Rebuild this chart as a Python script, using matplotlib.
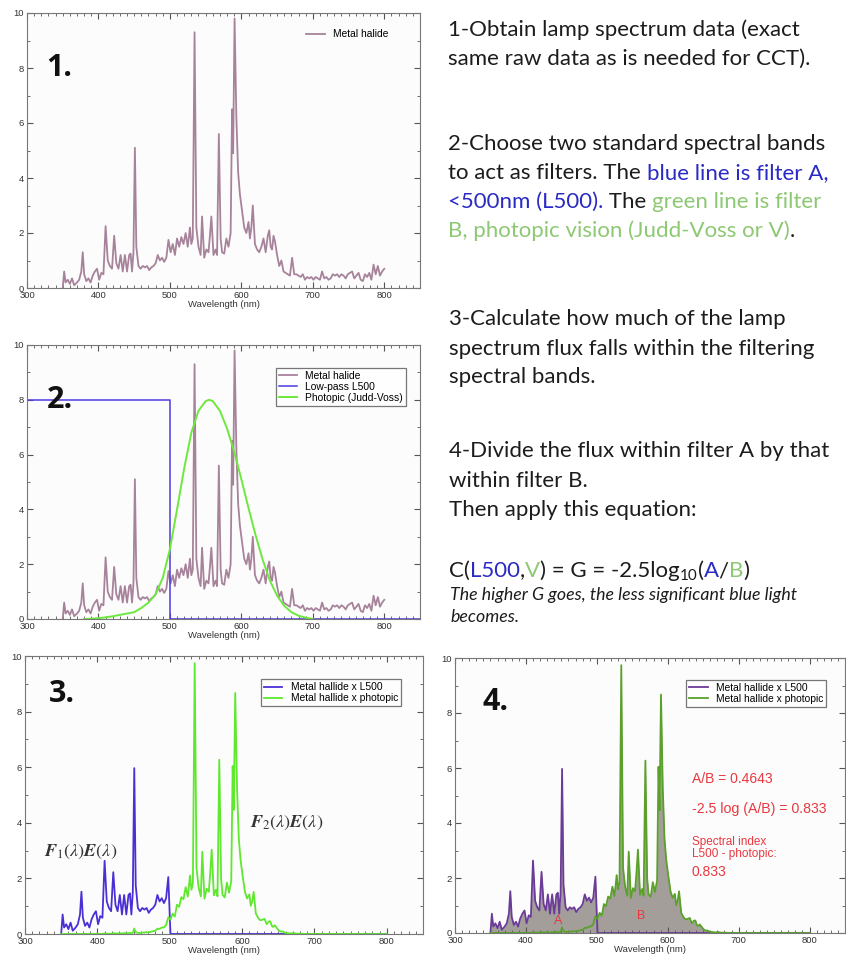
import numpy as np
import matplotlib.pyplot as plt
from matplotlib.ticker import MultipleLocator

plt.rcParams['mathtext.fontset'] = 'stix'

# metal halide lamp spectrum (nm, arbitrary units)
wl_mh = [350, 352, 354, 357, 360, 363, 366, 370, 373, 376, 378, 380, 383, 386, 389, 392, 395, 398,
         401, 404, 407, 410, 413, 416, 419, 422, 425, 428, 431, 434, 437, 440, 443, 445, 447, 449,
         451, 453, 456, 459, 462, 465, 468, 471, 474, 477, 480, 483, 486, 489, 492, 495, 498,
         501, 504, 507, 510, 513, 516, 519, 522, 525, 528, 530, 532, 534.5, 537, 540, 543, 545,
         548, 551, 554, 556, 558, 561, 564, 566, 568.5, 571, 573, 576, 579, 582, 585, 587, 588.5,
         590.5, 593, 595.5, 598, 601, 604, 607, 610, 612, 614, 616, 619, 622, 625, 628, 631, 634,
         637, 639, 641, 643, 645, 647, 650, 653, 656, 659, 662, 665, 668, 671, 674, 677, 680,
         683, 686, 689, 692, 695, 698, 701, 704, 707, 710, 713, 716, 719, 722, 725, 728, 731,
         734, 737, 740, 743, 746, 749, 752, 755, 758, 761, 764, 767, 770, 773, 776, 779, 782,
         785, 788, 791, 794, 797, 800]
mh = [0.0, 0.6, 0.2, 0.3, 0.15, 0.35, 0.1, 0.2, 0.3, 0.6, 1.3, 0.5, 0.25, 0.35, 0.2, 0.45, 0.6, 0.7,
      0.3, 0.55, 0.5, 2.25, 1.0, 0.8, 0.7, 1.9, 0.9, 0.7, 1.2, 0.6, 1.2, 0.6, 1.2, 1.25, 0.6, 1.3,
      5.1, 1.5, 0.8, 0.7, 0.8, 0.75, 0.8, 0.65, 0.75, 0.8, 0.9, 1.2, 1.0, 1.1, 0.95, 1.1, 1.75,
      1.3, 1.6, 1.2, 1.8, 1.5, 1.85, 1.6, 2.0, 1.5, 2.2, 1.6, 1.8, 9.3, 2.2, 1.5, 1.2, 2.6,
      1.1, 1.4, 1.3, 1.9, 2.6, 1.2, 1.4, 1.2, 5.6, 1.8, 1.3, 1.25, 1.8, 1.5, 2.0, 6.5, 4.9,
      9.8, 6.2, 4.2, 3.4, 2.8, 2.2, 2.0, 2.4, 1.8, 2.2, 3.0, 1.6, 1.4, 1.3, 1.5, 1.8, 1.3,
      1.9, 2.1, 1.5, 1.4, 1.9, 1.7, 1.2, 0.8, 1.0, 0.6, 0.55, 0.5, 0.45, 1.1, 0.5, 0.5, 0.45,
      0.4, 0.5, 0.3, 0.4, 0.35, 0.4, 0.3, 0.4, 0.35, 0.3, 0.6, 0.35, 0.4, 0.3, 0.35, 0.5, 0.45,
      0.5, 0.4, 0.5, 0.45, 0.35, 0.5, 0.55, 0.6, 0.35, 0.45, 0.55, 0.3, 0.25, 0.5, 0.4, 0.55, 0.3,
      0.85, 0.5, 0.8, 0.45, 0.6, 0.7]

# filters, drawn with a peak of 8
wl_l500 = [300, 500, 500, 850]
l500 = [8, 8, 0, 0]
wl_v = [380, 390, 400, 410, 420, 430, 440, 450, 460, 470, 480, 490, 500, 510, 520, 530, 540,
        550, 555, 560, 570, 580, 590, 600, 610, 620, 630, 640, 650, 660, 670, 680, 690, 700]
v_jv = [0.0, 0.01, 0.03, 0.06, 0.1, 0.15, 0.2, 0.25, 0.4, 0.6, 0.9, 1.5, 2.55, 4.0, 5.5, 6.8,
        7.6, 7.95, 8.0, 7.95, 7.6, 6.95, 6.1, 5.1, 4.05, 3.05, 2.15, 1.4, 0.85, 0.48, 0.25, 0.12,
        0.05, 0.0]
filter_gain = 1.17

ratio_text = ['A/B = 0.4643', '-2.5 log (A/B) = 0.833', 'Spectral index\nL500 - photopic:', '0.833']

wl = np.array(wl_mh)
e = np.array(mh)
f1e = e * (wl <= 500) * filter_gain
f2e = e * np.interp(wl, wl_v, v_jv) / 8.0 * filter_gain

W, H = 846, 957
fig = plt.figure(figsize=(W / 100, H / 100), dpi=100)

TICK_FONT = 'Liberation Sans'
MH_COL = '#a7839b'
LW = 1.3


def style_axes(ax):
    ax.set_xlim(300, 850)
    ax.set_ylim(0, 10)
    ax.xaxis.set_major_locator(MultipleLocator(100))
    ax.xaxis.set_minor_locator(MultipleLocator(10))
    ax.yaxis.set_major_locator(MultipleLocator(2))
    ax.yaxis.set_minor_locator(MultipleLocator(1))
    ax.set_xticks([300, 400, 500, 600, 700, 800])
    ax.tick_params(which='both', direction='in', top=True, right=True, colors='#555555',
                   labelcolor='#333333', labelsize=6.8, pad=2)
    ax.tick_params(which='major', length=4, width=0.8)
    ax.tick_params(which='minor', length=2, width=0.6)
    for lab in ax.get_xticklabels() + ax.get_yticklabels():
        lab.set_fontfamily(TICK_FONT)
    for sp in ax.spines.values():
        sp.set_color('#777777')
        sp.set_linewidth(0.8)
    ax.set_facecolor('#fcfcfc')
    ax.set_xlabel('Wavelength (nm)', fontsize=6.8, family=TICK_FONT, labelpad=0, color='#333333')


def big_label(ax, s, x, y):
    ax.text(x, y, s, transform=ax.transAxes, fontsize=22, fontweight='bold', family='Open Sans',
            ha='left', va='center', color='#111111')


def box_legend(ax, anchor, frame=True):
    leg = ax.legend(loc='upper right', bbox_to_anchor=anchor, frameon=frame, fancybox=False,
                    handlelength=1.8, borderpad=0.3, labelspacing=0.1,
                    prop={'family': TICK_FONT, 'size': 7.4})
    if frame:
        leg.get_frame().set_edgecolor('#555555')
        leg.get_frame().set_linewidth(0.9)
    return leg


def fig_axes(l, t, r, b):
    return fig.add_axes([l / W, 1 - b / H, (r - l) / W, (b - t) / H])


# 1. raw lamp spectrum
ax1 = fig_axes(27, 13, 420, 288)
ax1.plot(wl_mh, mh, color=MH_COL, lw=LW, label='Metal halide')
style_axes(ax1)
big_label(ax1, '1.', 0.05, 0.8)
box_legend(ax1, (0.94, 0.97), frame=False)

# 2. spectrum with the two filters
ax2 = fig_axes(27, 345, 420, 619)
ax2.plot(wl_mh, mh, color=MH_COL, lw=LW, label='Metal halide')
ax2.plot(wl_l500, l500, color='#4b3be0', lw=1.1, label='Low-pass L500')
ax2.plot(wl_v, v_jv, color='#6ee83c', lw=1.4, label='Photopic (Judd-Voss)')
style_axes(ax2)
big_label(ax2, '2.', 0.05, 0.8)
box_legend(ax2, (0.978, 0.935))

# 3. filtered spectra
ax3 = fig_axes(25, 656, 423, 934)
ax3.plot(wl, f1e, color='#4a30d4', lw=LW, label='Metal hallide x L500')
ax3.plot(wl, f2e, color='#5ee82e', lw=LW, label='Metal hallide x photopic')
style_axes(ax3)
big_label(ax3, '3.', 0.06, 0.865)
box_legend(ax3, (0.958, 0.935))
ax3.text(377, 2.95, r'$\boldsymbol{F}_1(\lambda)\boldsymbol{E}(\lambda)$', fontsize=13,
         ha='center', va='center', color='#333333')
ax3.text(661, 4.0, r'$\boldsymbol{F}_2(\lambda)\boldsymbol{E}(\lambda)$', fontsize=13,
         ha='center', va='center', color='#333333')

# 4. integrated bands
ax4 = fig_axes(455, 658, 845, 933)
ax4.fill_between(wl, 0, f2e, color='#a39e9a', lw=0)
ax4.fill_between(wl, 0, f1e, color='#a39e9a', lw=0)
ax4.plot(wl, f1e, color='#6b3b98', lw=LW, label='Metal hallide x L500')
ax4.plot(wl, f2e, color='#5aa02a', lw=LW, label='Metal hallide x photopic')
style_axes(ax4)
big_label(ax4, '4.', 0.07, 0.84)
box_legend(ax4, (0.965, 0.94))
red = '#e8383f'
ax4.text(445, 0.45, 'A', color=red, fontsize=9, ha='center', va='center', family=TICK_FONT)
ax4.text(563, 0.62, 'B', color=red, fontsize=9, ha='center', va='center', family=TICK_FONT)
ax4.text(634, 5.6, ratio_text[0], color=red, fontsize=10, va='center', family=TICK_FONT)
ax4.text(634, 4.5, ratio_text[1], color=red, fontsize=10.2, va='center', family=TICK_FONT)
ax4.text(634, 3.1, ratio_text[2], color=red, fontsize=8.5, va='center', family=TICK_FONT,
         linespacing=1.05)
ax4.text(634, 2.2, ratio_text[3], color=red, fontsize=10, va='center', family=TICK_FONT)

# explanatory text on the right
TXT_FONT = 'Lato'
BLACK = '#1c1c1c'
BLUE = '#2a2ac4'
GREEN = '#8dc873'
renderer = fig.canvas.get_renderer()


def text_width(s, size, style):
    t = fig.text(0, 0, s + '|', fontsize=size, family=TXT_FONT, style=style)
    w = t.get_window_extent(renderer=renderer).width
    t.remove()
    t = fig.text(0, 0, '|', fontsize=size, family=TXT_FONT, style=style)
    w -= t.get_window_extent(renderer=renderer).width
    t.remove()
    return w


def put_line(x, base, pieces, size=16, style='normal'):
    """pieces: (text, colour) or (text, colour, size, raise_px)"""
    cur = x
    for p in pieces:
        s, col = p[0], p[1]
        sz = p[2] if len(p) > 2 else size
        dy = p[3] if len(p) > 3 else 0
        fig.text(cur / W, 1 - (base - dy) / H, s, fontsize=sz, family=TXT_FONT, style=style,
                 color=col, va='baseline', ha='left')
        cur += text_width(s, sz, style)


put_line(448, 36, [('1-Obtain lamp spectrum data (exact', BLACK)])
put_line(448, 65, [('same raw data as is needed for CCT).', BLACK)])
put_line(448, 150, [('2-Choose two standard spectral bands', BLACK)])
put_line(448, 179, [('to act as filters. The ', BLACK), ('blue line is filter A,', BLUE)])
put_line(448, 208, [('<500nm (L500).', BLUE), (' The ', BLACK), ('green line is filter', GREEN)])
put_line(448, 237, [('B, photopic vision (Judd-Voss or V)', GREEN), ('.', BLACK)])
put_line(449, 325, [('3-Calculate how much of the lamp', BLACK)])
put_line(449, 355, [('spectrum flux falls within the filtering', BLACK)])
put_line(449, 383, [('spectral bands.', BLACK)])
put_line(449, 457, [('4-Divide the flux within filter A by that', BLACK)])
put_line(449, 487, [('within filter B.', BLACK)])
put_line(449, 516, [('Then apply this equation:', BLACK)])
put_line(449, 577, [('C(', BLACK), ('L500', BLUE), (',', BLACK), ('V', GREEN),
                    (') = G = -2.5log', BLACK), ('10', BLACK, 11, -3), ('(', BLACK), ('A', BLUE),
                    ('/', BLACK), ('B', GREEN), (')', BLACK)])
put_line(450, 600, [('The higher G goes, the less significant blue light', BLACK)], size=12.8,
         style='italic')
put_line(450, 622, [('becomes.', BLACK)], size=12.8, style='italic')

fig.savefig('out.png', dpi=100, facecolor='white')
